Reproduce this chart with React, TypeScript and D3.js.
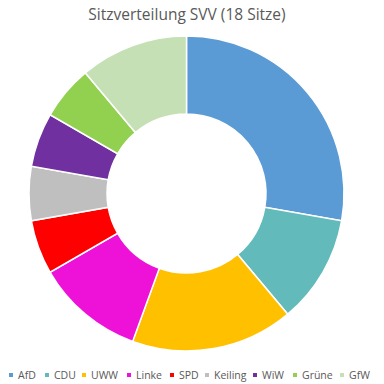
import { useMemo } from 'react';
import * as d3 from 'd3';

const PARTIES = ['AfD', 'CDU', 'UWW', 'Linke', 'SPD', 'Keiling', 'WiW', 'Grüne', 'GfW'];
const SEATS = [5, 2, 3, 2, 1, 1, 1, 1, 2];
const COLORS = ['#5B9BD5', '#62BBBA', '#FFC000', '#EE12D9', '#FF0000', '#BFBFBF', '#7030A0', '#92D050', '#C5E0B4'];
// centre x of each legend marker
const LEGEND_X = [11, 47, 84, 129, 172, 207, 255, 295, 342];

const TITLE = 'Sitzverteilung SVV (18 Sitze)';

const WIDTH = 384;
const HEIGHT = 384;
const CX = 186.5;
const CY = 193.5;
const OUTER_R = 157.5;
const INNER_R = 79.5;

interface Slice {
  party: string;
  seats: number;
  color: string;
}

export default function App() {
  const slices: Slice[] = PARTIES.map((party, i) => ({ party, seats: SEATS[i], color: COLORS[i] }));

  const arcs = useMemo(() => {
    const pie = d3
      .pie<Slice>()
      .value(d => d.seats)
      .sort(null);
    const arc = d3.arc<d3.PieArcDatum<Slice>>().innerRadius(INNER_R).outerRadius(OUTER_R);
    return pie(slices).map(a => ({ d: arc(a) ?? '', color: a.data.color, key: a.data.party }));
  }, []);

  return (
    <svg
      width={WIDTH}
      height={HEIGHT}
      style={{ position: 'absolute', left: 0, top: 0, background: '#ffffff', fontFamily: '"Open Sans", sans-serif' }}
    >
      <text x={187} y={20} textAnchor="middle" fontSize="15.5px" fill="#595959">
        {TITLE}
      </text>
      <g transform={`translate(${CX}, ${CY})`}>
        {arcs.map(a => (
          <path key={a.key} d={a.d} fill={a.color} stroke="#ffffff" strokeWidth={1.5} />
        ))}
      </g>
      <g transform="translate(0, 375)">
        {PARTIES.map((p, i) => (
          <g key={p} transform={`translate(${LEGEND_X[i]}, 0)`}>
            <rect x={-2} y={-2} width={4} height={4} fill={COLORS[i]} />
            <text x={7} dy="0.35em" fontSize="10.5px" fill="#595959">
              {p}
            </text>
          </g>
        ))}
      </g>
    </svg>
  );
}
